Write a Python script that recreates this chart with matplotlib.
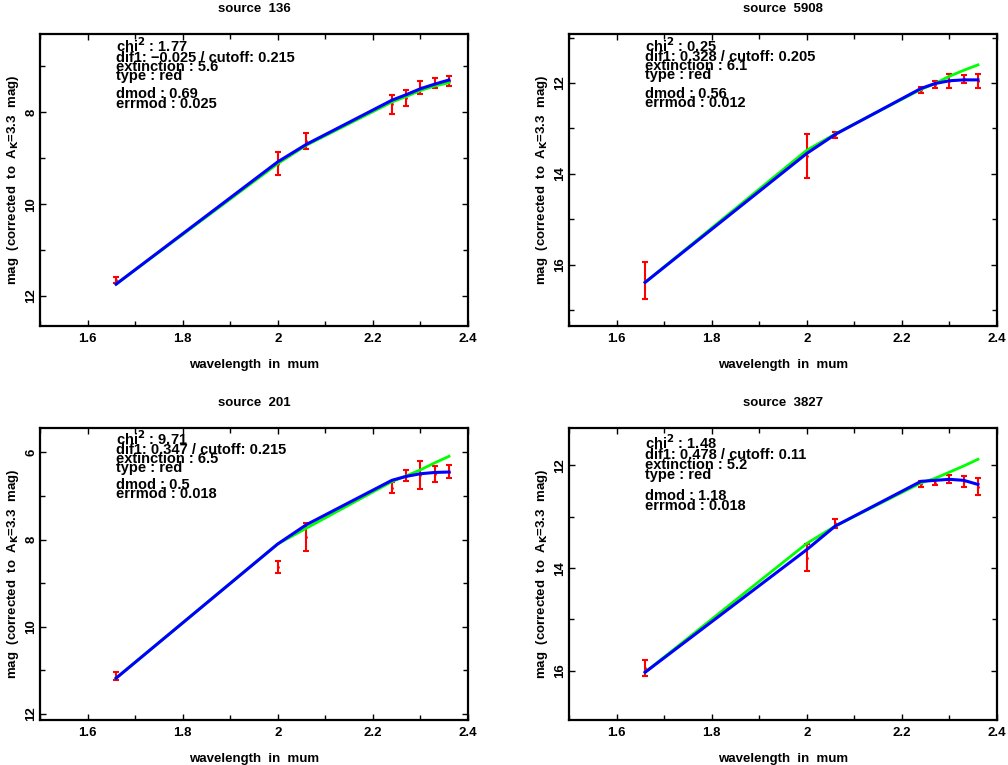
import matplotlib
matplotlib.use("Agg")
import matplotlib.pyplot as plt
from matplotlib.ticker import MultipleLocator

plt.rcParams['font.family'] = ['Liberation Sans', 'DejaVu Sans']
plt.rcParams['font.weight'] = 'bold'
plt.rcParams['mathtext.default'] = 'bf'

# wavelengths of the filters (micron)
wavelength = [1.66, 2.00, 2.06, 2.24, 2.27, 2.30, 2.33, 2.36]

sources = ["136", "5908", "201", "3827"]

# observed magnitudes and errors
mag_obs = [
    [11.65, 9.12, 8.63, 7.83, 7.69, 7.46, 7.37, 7.33],
    [16.35, 13.61, 13.15, 12.15, 12.04, 11.96, 11.92, 11.96],
    [11.13, 8.63, 7.95, 6.81, 6.53, 6.52, 6.50, 6.44],
    [15.95, 13.80, 13.13, 12.36, 12.34, 12.27, 12.31, 12.41],
]
mag_err = [
    [0.06, 0.25, 0.17, 0.20, 0.18, 0.145, 0.11, 0.11],
    [0.41, 0.49, 0.07, 0.07, 0.08, 0.16, 0.09, 0.15],
    [0.085, 0.13, 0.32, 0.12, 0.115, 0.32, 0.18, 0.14],
    [0.15, 0.26, 0.09, 0.055, 0.05, 0.08, 0.10, 0.16],
]
# model without (green) and with (blue) the extra component
mag_green = [
    [11.74, 9.12, 8.72, 7.78, 7.66, 7.53, 7.43, 7.36],
    [16.39, 13.48, 13.12, 12.14, 12.01, 11.85, 11.72, 11.60],
    [11.18, 8.10, 7.74, 6.67, 6.54, 6.40, 6.24, 6.09],
    [16.03, 13.52, 13.18, 12.34, 12.25, 12.13, 12.01, 11.88],
]
mag_blue = [
    [11.74, 9.08, 8.70, 7.74, 7.62, 7.49, 7.39, 7.30],
    [16.39, 13.55, 13.13, 12.12, 12.01, 11.95, 11.93, 11.93],
    [11.18, 8.10, 7.66, 6.64, 6.55, 6.49, 6.46, 6.45],
    [16.03, 13.64, 13.18, 12.31, 12.29, 12.27, 12.29, 12.37],
]

chi2 = ["1.77", "0.25", "9.71", "1.48"]
dif1 = ["\u22120.025", "0.328", "0.347", "0.478"]
cutoff = ["0.215", "0.205", "0.215", "0.11"]
extinction = ["5.6", "6.1", "6.5", "5.2"]
dmod = ["0.69", "0.56", "0.5", "1.18"]
errmod = ["0.025", "0.012", "0.018", "0.018"]

ylims = [(12.65, 6.3), (17.35, 10.92), (12.14, 5.44), (16.96, 11.27)]

fig = plt.figure(figsize=(10.08, 7.65), dpi=100)
W, H = 1008, 765
boxes = [(40, 34, 428, 292), (569, 34, 428, 292), (40, 428, 428, 292), (569, 428, 428, 292)]

for i in range(4):
    x0, y0, w, h = boxes[i]
    ax = fig.add_axes([x0 / W, 1 - (y0 + h) / H, w / W, h / H])

    ax.errorbar(wavelength, mag_obs[i], yerr=mag_err[i], fmt='.', ms=2, color='#ff0000',
                ecolor='#ff0000', elinewidth=1.5, capsize=2, capthick=1.5, zorder=2)
    ax.plot(wavelength, mag_green[i], color='#00ff00', lw=2, zorder=3)
    ax.plot(wavelength, mag_blue[i], color='#0000ff', lw=2.2, zorder=4)

    ax.set_xlim(1.5, 2.4)
    ax.set_ylim(*ylims[i])
    ax.xaxis.set_major_locator(MultipleLocator(0.2))
    ax.xaxis.set_minor_locator(MultipleLocator(0.1))
    ax.yaxis.set_major_locator(MultipleLocator(2))
    ax.yaxis.set_minor_locator(MultipleLocator(1))
    ax.xaxis.set_major_formatter(plt.FuncFormatter(lambda v, p: f"{v:g}"))
    ax.tick_params(which='both', direction='in', top=True, right=True, width=1,
                   labelsize=9.5)
    ax.tick_params(which='major', length=4.5)
    ax.tick_params(axis='x', which='major', pad=5)
    ax.tick_params(axis='y', which='major', pad=2)
    ax.tick_params(which='minor', length=3.5)
    for lab in ax.get_yticklabels():
        lab.set_rotation(90)
        lab.set_va('center')
    for sp in ax.spines.values():
        sp.set_linewidth(1.6)

    ax.set_title("source  " + sources[i], fontsize=9.5, fontweight='bold', pad=16)
    ax.set_xlabel("wavelength  in  mum", fontsize=9.5, fontweight='bold', labelpad=10)
    ax.set_ylabel("mag  (corrected  to  A$_{K}$=3.3  mag)", fontsize=9.5,
                  fontweight='bold', labelpad=3)

    top = ylims[i][1]
    lines = [
        ("chi$^{2}$ : " + chi2[i], 0.0),
        ("dif1: " + dif1[i] + " / cutoff: " + cutoff[i], 0.2),
        ("extinction : " + extinction[i], 0.4),
        ("type : red", 0.6),
        ("dmod : " + dmod[i], 1.0),
        ("errmod : " + errmod[i], 1.2),
    ]
    for txt, dy in lines:
        ax.text(1.66, top + 0.4 + dy, txt, fontsize=10.5, fontweight='bold',
                va='baseline', ha='left', zorder=5)

fig.savefig("out.png", dpi=100)
